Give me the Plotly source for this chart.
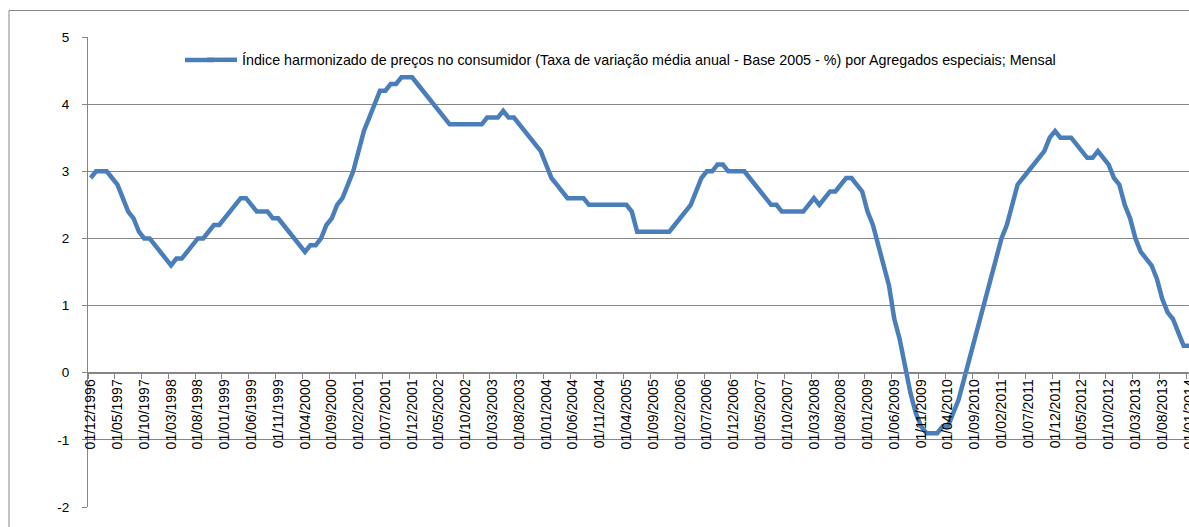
import pandas as pd
import plotly.graph_objects as go

# Monthly categories (first day of month), Dec 1996 .. Jan 2014
months = pd.date_range("1996-12-01", periods=206, freq="MS").strftime("%d/%m/%Y").tolist()

series_name = ("Índice harmonizado de preços no consumidor (Taxa de variação média anual - "
               "Base 2005 - %) por Agregados especiais; Mensal")

# Values, grouped by year (Dec 1996 first)
v1996 = [2.9]
v1997 = [3.0, 3.0, 3.0, 2.9, 2.8, 2.6, 2.4, 2.3, 2.1, 2.0, 2.0, 1.9]
v1998 = [1.8, 1.7, 1.6, 1.7, 1.7, 1.8, 1.9, 2.0, 2.0, 2.1, 2.2, 2.2]
v1999 = [2.3, 2.4, 2.5, 2.6, 2.6, 2.5, 2.4, 2.4, 2.4, 2.3, 2.3, 2.2]
v2000 = [2.1, 2.0, 1.9, 1.8, 1.9, 1.9, 2.0, 2.2, 2.3, 2.5, 2.6, 2.8]
v2001 = [3.0, 3.3, 3.6, 3.8, 4.0, 4.2, 4.2, 4.3, 4.3, 4.4, 4.4, 4.4]
v2002 = [4.3, 4.2, 4.1, 4.0, 3.9, 3.8, 3.7, 3.7, 3.7, 3.7, 3.7, 3.7]
v2003 = [3.7, 3.8, 3.8, 3.8, 3.9, 3.8, 3.8, 3.7, 3.6, 3.5, 3.4, 3.3]
v2004 = [3.1, 2.9, 2.8, 2.7, 2.6, 2.6, 2.6, 2.6, 2.5, 2.5, 2.5, 2.5]
v2005 = [2.5, 2.5, 2.5, 2.5, 2.4, 2.1, 2.1, 2.1, 2.1, 2.1, 2.1, 2.1]
v2006 = [2.2, 2.3, 2.4, 2.5, 2.7, 2.9, 3.0, 3.0, 3.1, 3.1, 3.0, 3.0]
v2007 = [3.0, 3.0, 2.9, 2.8, 2.7, 2.6, 2.5, 2.5, 2.4, 2.4, 2.4, 2.4]
v2008 = [2.4, 2.5, 2.6, 2.5, 2.6, 2.7, 2.7, 2.8, 2.9, 2.9, 2.8, 2.7]
v2009 = [2.4, 2.2, 1.9, 1.6, 1.3, 0.8, 0.5, 0.1, -0.3, -0.6, -0.8, -0.9]
v2010 = [-0.9, -0.9, -0.8, -0.8, -0.6, -0.4, -0.1, 0.2, 0.5, 0.8, 1.1, 1.4]
v2011 = [1.7, 2.0, 2.2, 2.5, 2.8, 2.9, 3.0, 3.1, 3.2, 3.3, 3.5, 3.6]
v2012 = [3.5, 3.5, 3.5, 3.4, 3.3, 3.2, 3.2, 3.3, 3.2, 3.1, 2.9, 2.8]
v2013 = [2.5, 2.3, 2.0, 1.8, 1.7, 1.6, 1.4, 1.1, 0.9, 0.8, 0.6, 0.4]
v2014 = [0.4]

values = (v1996 + v1997 + v1998 + v1999 + v2000 + v2001 + v2002 + v2003 + v2004 + v2005
          + v2006 + v2007 + v2008 + v2009 + v2010 + v2011 + v2012 + v2013 + v2014)

tick_labels = months[::5]
y_ticks = [-2, -1, 0, 1, 2, 3, 4, 5]
y_tick_text = ["-2", "-1", "0", "1", "2", "3", "4", "5"]

W, H = 1189, 527
L, R, T, B = 88, 0, 37, 20
pw, ph = W - L - R, H - T - B
GRAY = "#868686"
BLUE = "#4A7EBB"
FONT = "Liberation Sans"


def px_x(px):
    return (px - L) / pw


def px_y(py):
    return (H - B - py) / ph


fig = go.Figure()
fig.add_trace(go.Scatter(
    x=months, y=values, mode="lines", name=series_name,
    line=dict(color=BLUE, width=4.5),
    showlegend=True,
))

LEG_Y = 60
fig.update_layout(
    width=W, height=H,
    margin=dict(l=L, r=R, t=T, b=B, pad=0, autoexpand=False),
    paper_bgcolor="white", plot_bgcolor="white",
    font=dict(family=FONT, size=13, color="black"),
    showlegend=True,
    legend=dict(
        x=px_x(202), y=px_y(LEG_Y), xanchor="left", yanchor="middle",
        bgcolor="rgba(0,0,0,0)", font=dict(family=FONT, size=14.3, color="black"),
        itemwidth=30,
    ),
    xaxis=dict(
        type="category",
        range=[-0.5, 205.0],
        tickmode="array", tickvals=tick_labels, ticktext=tick_labels,
        tickson="boundaries",
        tickangle=-90,
        ticks="outside", ticklen=5, tickcolor=GRAY, tickwidth=1,
        showline=True, linecolor=GRAY, linewidth=1,
        showgrid=False, zeroline=False,
        anchor="free", position=(0 - (-2)) / 7,
        automargin=False,
        tickfont=dict(family=FONT, size=14, color="black"),
    ),
    yaxis=dict(
        range=[-2, 5],
        tickmode="array", tickvals=y_ticks, ticktext=y_tick_text,
        ticks="outside", ticklen=5, tickcolor=GRAY,
        ticklabelstandoff=10,
        showline=True, linecolor=GRAY, linewidth=1,
        showgrid=True, gridcolor=GRAY, gridwidth=1,
        zeroline=False,
        automargin=False,
        tickfont=dict(family=FONT, size=13.5, color="black"),
    ),
)

# outer chart-area border (extends past right/bottom edges of the window)
fig.add_shape(
    type="rect", xref="paper", yref="paper",
    x0=px_x(9), x1=px_x(W + 20),
    y0=px_y(H + 20), y1=px_y(10.5),
    line=dict(color=GRAY, width=1), fillcolor="rgba(0,0,0,0)", layer="below",
)

# longer legend line sample (Excel-style)
fig.add_shape(
    type="line", xref="paper", yref="paper",
    x0=px_x(185), x1=px_x(214), y0=px_y(LEG_Y), y1=px_y(LEG_Y),
    line=dict(color=BLUE, width=4.5), layer="above",
)

fig.write_html("out.html", config={"displayModeBar": False},
               post_script="document.body.style.margin='0';")
